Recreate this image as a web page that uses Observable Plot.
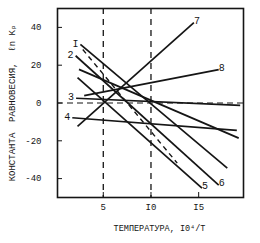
<!DOCTYPE html>
<html><head><meta charset="utf-8">
<script src="https://cdn.jsdelivr.net/npm/d3@7"></script>
<script src="https://cdn.jsdelivr.net/npm/@observablehq/plot@0.6"></script>
<style>body{margin:0;background:#fff}</style>
</head><body><div id="chart"></div>
<script>
// Line segments (data units: x = 10^4/T, y = ln Kp)
const lineId     = ["I", "2", "C", "D", "3", "4", "7", "8", "dash"];
const startX     = [2.6, 2.1, 2.45, 2.3, 2.15, 1.75, 2.3, 3.0, 2.85];
const startY     = [31.0, 25.0, 17.8, 13.4, 2.5, -7.8, -12.4, 3.9, 28.3];
const endX       = [18.0, 17.1, 19.2, 15.35, 19.35, 19.0, 14.5, 17.1, 12.75];
const endY       = [-34.5, -43.4, -18.6, -45.1, -1.3, -14.5, 42.5, 17.7, -31.8];
const isDashed   = [false, false, false, false, false, false, false, false, true];
const startLabel = ["I", "2", "", "", "3", "4", "", "", ""];
const endLabel   = ["", "6", "", "5", "", "", "7", "8", ""];

// Reference (dashed) lines
const refX = [5, 10];
const refY = [0];

// Axes
const xDomain = [0.2, 19.7];
const yDomain = [-50, 50];
const xTicks = [5, 10, 15];
const xTickText = ["5", "I0", "I5"];
const yTicks = [40, 20, 0, -20, -40];
const yTickText = ["40", "20", "0", "-20", "-40"];
const xTitle = "ТЕМПЕРАТУРА, I0\u2074/T";
const yTitle = "КОНСТАНТА\u00A0\u00A0РАВНОВЕСИЯ,\u00A0\u00A0\u2113n\u00A0K\u209A";

const segs = lineId.map((id, i) => ({
  id, x1: startX[i], y1: startY[i], x2: endX[i], y2: endY[i],
  dashed: isDashed[i], sl: startLabel[i], el: endLabel[i]
}));
const xFmt = new Map(xTicks.map((t, i) => [t, xTickText[i]]));
const yFmt = new Map(yTicks.map((t, i) => [t, yTickText[i]]));

const ink = "#151515";
const chart = Plot.plot({
  width: 260, height: 243,
  marginLeft: 57, marginRight: 17, marginTop: 8, marginBottom: 46,
  x: {domain: xDomain},
  y: {domain: yDomain},
  style: {fontFamily: "'Liberation Mono', 'DejaVu Sans Mono', monospace", fontSize: "9px", color: ink, background: "#fff"},
  marks: [
    Plot.ruleX(refX, {stroke: ink, strokeWidth: 1.3, strokeDasharray: "6,5"}),
    Plot.ruleY(refY, {stroke: ink, strokeWidth: 1.1, strokeDasharray: "6,4"}),
    Plot.link(segs.filter(d => !d.dashed), {x1: "x1", y1: "y1", x2: "x2", y2: "y2", stroke: ink, strokeWidth: 1.7}),
    Plot.link(segs.filter(d => d.dashed), {x1: "x1", y1: "y1", x2: "x2", y2: "y2", stroke: ink, strokeWidth: 1.4, strokeDasharray: "5,4"}),
    Plot.text(segs.filter(d => d.sl), {x: "x1", y: "y1", text: "sl", textAnchor: "end", dx: -2, dy: -1, fontSize: 10, fill: ink}),
    Plot.text(segs.filter(d => d.el), {x: "x2", y: "y2", text: "el", textAnchor: "start", dx: 0, dy: -2, fontSize: 10, fill: ink}),
    Plot.axisY(yTicks, {tickSize: -5, tickPadding: 21, tickFormat: d => yFmt.get(d), stroke: ink, fill: ink, label: null}),
    Plot.axisX(xTicks, {tickSize: -5, tickPadding: 11, tickFormat: d => xFmt.get(d), stroke: ink, fill: ink, label: null}),
    Plot.frame({stroke: ink, strokeWidth: 1.6}),
    Plot.text([xTitle], {frameAnchor: "bottom", textAnchor: "middle", lineAnchor: "middle", dy: 31, dx: 9, fontSize: 8.5, fill: ink}),
    Plot.text([yTitle], {frameAnchor: "left", textAnchor: "middle", lineAnchor: "middle", rotate: -90, dx: -45, fontSize: 9, fill: ink})
  ]
});
document.getElementById("chart").appendChild(chart);
</script>
</body></html>
